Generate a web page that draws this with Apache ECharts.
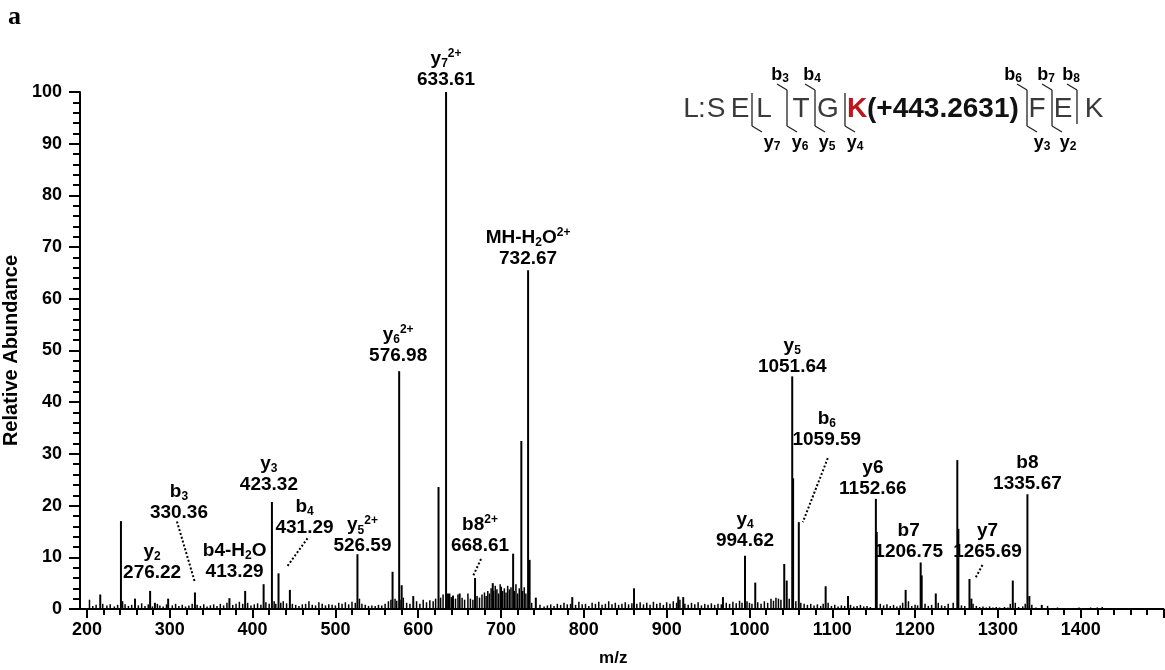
<!DOCTYPE html>
<html>
<head>
<meta charset="utf-8">
<script src="https://cdn.jsdelivr.net/npm/echarts@6/dist/echarts.min.js"></script>
<style>
html,body{margin:0;padding:0;background:#fff;}
#chart{width:1165px;height:670px;}
</style>
</head>
<body>
<div id="chart"></div>
<script>
// ---------------- DATA ----------------
// major fragment / precursor peaks [m/z, relative abundance]
const majorPeaks = [
  [216, 2.8], [241, 17], [258, 2], [276.22, 3.5], [282, 1.2], [298, 2], [330.36, 3.2],
  [372, 2.1], [391, 3.5], [413.29, 4.8], [423.32, 20.7], [431.29, 6.9], [445, 3.7],
  [526.59, 10.6], [569, 7.2], [576.98, 46], [580, 4.6], [594, 2.5], [624.5, 23.6],
  [633.61, 100], [636, 3], [642, 2.6], [650, 3], [668.61, 6], [690, 5], [700, 4.3],
  [714.6, 10.7], [724.5, 32.5], [732.67, 65.5], [734.5, 9.5], [742, 2.2], [786, 2.3],
  [860.6, 4], [914, 2.4], [920, 2.3], [968, 2.3], [994.62, 10.3], [1007, 5.1],
  [1042, 8.7], [1045, 5.5], [1051.64, 45], [1052.7, 25.3], [1059.59, 16.8], [1092, 4.4],
  [1119, 2.5], [1152.66, 21.3], [1153.7, 14.9], [1188.6, 3.7], [1206.75, 9], [1208, 6.5],
  [1225, 3], [1251, 28.8], [1252.3, 15.5], [1265.69, 5.8], [1268, 2], [1318, 5.5],
  [1335.67, 22.2], [1338, 2.5], [1353, 0.8]
];
// low-level baseline peaks [m/z, relative abundance]
const noisePeaks = [
  [203,1.8],[207,0.6],[211,0.8],[219,1.0],[224,0.7],[228,0.9],[233,0.5],[237,0.8],[243,1.5],[246,0.9],
  [250,0.6],[254,0.8],[262,0.7],[266,1.1],[270,0.6],[274,0.9],[279,0.5],[285,1.0],[288,0.7],[292,0.5],
  [296,0.9],[303,0.7],[307,1.0],[311,0.6],[315,0.8],[319,0.5],[323,0.7],[327,1.0],[333,0.8],[337,0.6],
  [341,0.9],[345,0.5],[349,0.7],[353,0.9],[357,0.6],[361,1.0],[365,0.7],[369,1.2],[376,0.8],[380,1.0],
  [384,1.4],[388,1.0],[394,1.2],[398,0.7],[402,0.9],[406,1.1],[410,0.8],[416,1.3],[420,1.0],[426,1.5],
  [428,1.0],[434,1.2],[437,1.5],[441,1.1],[448,1.0],[452,0.8],[456,0.6],[460,0.9],[464,1.0],[468,1.5],
  [472,0.8],[476,0.7],[480,1.3],[484,1.0],[488,0.7],[492,0.9],[496,0.8],[500,0.7],[504,1.2],[508,1.0],
  [512,1.3],[516,0.9],[520,1.4],[524,1.2],[529,2.0],[532,1.0],[536,0.8],[540,0.6],[544,0.7],[548,0.6],
  [552,0.8],[556,0.7],[560,1.0],[564,1.5],[567,1.8],[572,2.0],[574,1.6],[578,1.8],[582,2.2],[586,1.2],
  [590,1.0],[598,1.5],[602,1.0],[606,1.8],[610,1.3],[614,1.7],[618,1.5],[621,2.0],[627,2.2],[630,2.8],
  [638,3.0],[640,2.3],[645,2.0],[648,2.8],[653,2.2],[656,1.8],[660,3.0],[663,2.0],[666,1.8],[671,2.5],
  [674,2.2],[677,2.8],[680,3.2],[682,2.5],[684,3.5],[686,3.0],[688,4.0],[691,3.5],[693,4.5],[695,3.8],
  [697,3.0],[699,4.8],[702,3.5],[704,4.0],[706,3.2],[708,4.5],[710,3.8],[712,4.2],[716,3.5],[718,4.8],
  [720,3.0],[722,4.0],[726,3.5],[728,4.2],[730,3.0],[737,1.2],[747,0.8],[752,0.5],[756,0.7],[760,0.9],
  [764,0.6],[768,1.0],[772,0.8],[776,1.2],[780,0.9],[784,1.0],[790,0.8],[794,1.4],[798,0.9],[802,1.0],
  [806,0.6],[810,1.2],[814,1.0],[818,1.4],[822,0.8],[826,1.0],[830,1.5],[834,0.9],[838,1.2],[842,0.8],
  [846,1.0],[850,1.3],[854,0.9],[858,1.1],[864,1.0],[868,1.3],[872,0.9],[876,1.2],[880,0.8],[884,1.4],
  [888,1.0],[892,1.2],[896,0.8],[900,1.3],[904,1.0],[908,1.5],[912,1.2],[916,1.8],[922,1.0],[926,0.8],
  [930,1.2],[934,0.9],[938,1.3],[942,0.7],[946,1.0],[950,0.8],[954,1.1],[958,0.8],[962,1.0],[966,0.9],
  [972,1.2],[976,1.0],[980,1.4],[984,1.1],[988,1.6],[991,1.2],[997,1.5],[1000,1.2],[1003,1.0],[1010,1.3],
  [1014,1.0],[1018,1.5],[1022,1.2],[1026,2.0],[1029,1.6],[1032,2.2],[1035,2.0],[1038,1.8],[1048,2.0],[1056,1.5],
  [1062,1.2],[1066,1.0],[1070,0.8],[1074,1.0],[1078,0.7],[1082,0.9],[1086,0.6],[1089,1.0],[1095,1.2],[1099,0.6],
  [1103,0.8],[1107,0.5],[1111,0.7],[1115,0.6],[1122,0.8],[1126,0.5],[1130,0.6],[1134,0.8],[1138,0.5],[1142,0.6],
  [1146,0.4],[1158,1.0],[1162,0.7],[1166,0.9],[1170,0.6],[1174,0.8],[1178,0.5],[1182,0.7],[1185,1.2],[1192,1.5],
  [1196,0.6],[1200,0.8],[1203,0.7],[1212,1.0],[1216,0.6],[1220,0.8],[1228,1.2],[1232,0.7],[1236,0.6],[1240,1.0],
  [1246,1.2],[1256,0.7],[1260,0.6],[1270,1.0],[1274,0.6],[1278,0.4],[1282,0.5],[1286,0.3],[1290,0.5],[1294,0.3],
  [1298,0.4],[1302,0.3],[1308,0.4],[1312,0.3],[1315,1.0],[1321,1.2],[1325,0.4],[1330,0.5],[1333,1.0],[1341,0.8],
  [1346,0.3],[1360,0.6],[1372,0.3],[1385,0.2],[1398,0.3],[1405,0.2],[1412,0.3],[1420,0.3],[1426,0.4]
];
// annotated ions
const ionMz = [276.22, 330.36, 413.29, 423.32, 431.29, 526.59, 576.98, 633.61, 668.61,
  732.67, 994.62, 1051.64, 1059.59, 1152.66, 1206.75, 1265.69, 1335.67];
const ionNames = ['{n|y}{s|2}', '{n|b}{s|3}', '{n|b4-H}{s|2}{n|O}', '{n|y}{s|3}', '{n|b}{s|4}',
  '{n|y}{s|5}{p|2+}', '{n|y}{s|6}{p|2+}', '{n|y}{s|7}{p|2+}', '{n|b8}{p|2+}',
  '{n|MH-H}{s|2}{n|O}{p|2+}', '{n|y}{s|4}', '{n|y}{s|5}', '{n|b}{s|6}', '{n|y6}', '{n|b7}',
  '{n|y7}', '{n|b8}'];
// axis ticks
const xTicks = {min: 200, max: 1500, step: 100};
const yTicks = {min: 0, max: 100, step: 10};

// ---------------- LAYOUT (pixels) ----------------
// [dx of label centre from peak, height of value line centre above peak top, leader or null]
// leader: [start dx from label centre, start dy below value centre, end dx from peak, end dy from peak top]
const ionLayout = [
  [2, 18, null], [-16, 80, [-2, 9, 0, -10]], [-29, 12, null], [-3, 17, null], [26, 46, [3, 11, 8, -6]],
  [5, 8, null], [-1, 15, null], [0, 12, null], [5, 32, [1, 13, -2, -2]],
  [0, 12, null], [0, 15, null], [0, 10, null], [28, 82, [1, 18, 4, 0]], [-3, 10, null], [-12, 11, null],
  [18, 27, [-5, 13, 6, -1]], [0, 10, null]
];

const FONT = '"Liberation Sans", Arial, Helvetica, sans-serif';
const chart = echarts.init(document.getElementById('chart'), null, {renderer: 'canvas'});

function stick(width) {
  return function (params, api) {
    const x = api.value(0), y = api.value(1);
    const p0 = api.coord([x, 0]);
    const p1 = api.coord([x, y]);
    return {type: 'line', shape: {x1: p0[0], y1: p0[1], x2: p1[0], y2: p1[1]},
      style: {stroke: '#000', lineWidth: width}};
  };
}
const ionData = ionMz.map((mz, i) => {
  const pk = majorPeaks.find(p => p[0] === mz);
  return [mz, pk ? pk[1] : 0, i];
});
const rich = {
  n: {fontFamily: FONT, fontWeight: 'bold', fontSize: 19, lineHeight: 22, fill: '#000'},
  s: {fontFamily: FONT, fontWeight: 'bold', fontSize: 12, lineHeight: 12, verticalAlign: 'bottom', fill: '#000'},
  p: {fontFamily: FONT, fontWeight: 'bold', fontSize: 12, lineHeight: 12, verticalAlign: 'top', fill: '#000'}
};
function ionLabel(params, api) {
  const i = api.value(2);
  const pt = api.coord([api.value(0), api.value(1)]);
  const L = ionLayout[i];
  const lx = pt[0] + L[0];
  const vy = pt[1] - L[1];
  const children = [
    {type: 'text', x: lx, y: vy, style: {text: ionMz[i].toFixed(2), font: 'bold 19px ' + FONT,
      fill: '#000', align: 'center', verticalAlign: 'middle'}},
    {type: 'text', x: lx, y: vy - 21, style: {text: ionNames[i], rich: rich, fill: '#000',
      font: 'bold 19px ' + FONT, align: 'center', verticalAlign: 'middle'}}
  ];
  if (L[2]) {
    const d = L[2];
    children.push({type: 'line', shape: {x1: lx + d[0], y1: vy + d[1], x2: pt[0] + d[2], y2: pt[1] + d[3]},
      style: {stroke: '#000', lineWidth: 2, lineDash: [2, 2]}});
  }
  return {type: 'group', children: children};
}

// peptide sequence annotation (graphic)
const seqColor = '#3a3a3a';
const seqY = 109;
const seqParts = [
  ['L', 691, 'n'], [':', 702, 'n'], ['S', 716, 'n'], ['E', 740, 'n'], ['L', 764, 'n'], ['T', 801, 'n'],
  ['G', 828, 'n'], ['K', 857, 'k'], ['F', 1037, 'n'], ['E', 1063, 'n'], ['K', 1094, 'n']
];
const graphics = [];
seqParts.forEach(p => {
  graphics.push({type: 'text', x: p[1], y: seqY, style: {text: p[0],
    font: (p[2] === 'k' ? 'bold ' : '') + '28px ' + FONT, fill: p[2] === 'k' ? '#c0141c' : seqColor,
    align: 'center', verticalAlign: 'middle'}});
});
graphics.push({type: 'text', x: 867, y: seqY, style: {text: '(+443.2631)', font: 'bold 28px ' + FONT,
  fill: '#111', align: 'left', verticalAlign: 'middle'}});
// fragment brackets: [x, hasB, hasY]
const brackets = [[752, false, true], [787, true, true], [815, true, true], [845, false, true],
  [1027, true, true], [1052, true, true], [1077, true, false]];
brackets.forEach(b => {
  const x = b[0];
  graphics.push({type: 'line', shape: {x1: x, y1: b[1] ? 90 : 93, x2: x, y2: b[2] ? 126 : 124},
    style: {stroke: '#222', lineWidth: 1.3}});
  if (b[1]) graphics.push({type: 'line', shape: {x1: x - 10, y1: 84, x2: x, y2: 90}, style: {stroke: '#222', lineWidth: 1.3}});
  if (b[2]) graphics.push({type: 'line', shape: {x1: x, y1: 126, x2: x + 10, y2: 132}, style: {stroke: '#222', lineWidth: 1.3}});
});
const seqIonLabels = [
  ['{n|b}{s|3}', 780, 75], ['{n|b}{s|4}', 812, 75], ['{n|b}{s|6}', 1013, 75], ['{n|b}{s|7}', 1046, 75], ['{n|b}{s|8}', 1071, 75],
  ['{n|y}{s|7}', 772, 143], ['{n|y}{s|6}', 800, 143], ['{n|y}{s|5}', 827, 143], ['{n|y}{s|4}', 855, 143],
  ['{n|y}{s|3}', 1042, 143], ['{n|y}{s|2}', 1068, 143]
];
const richSmall = {
  n: {fontFamily: FONT, fontWeight: 'bold', fontSize: 18, lineHeight: 20, fill: '#000'},
  s: {fontFamily: FONT, fontWeight: 'bold', fontSize: 12, lineHeight: 12, verticalAlign: 'bottom', fill: '#000'}
};
seqIonLabels.forEach(l => {
  graphics.push({type: 'text', x: l[1], y: l[2], style: {text: l[0], rich: richSmall,
    align: 'center', verticalAlign: 'middle'}});
});
// panel letter
graphics.push({type: 'text', left: 8, top: 4, style: {text: 'a', font: 'bold 26px "Liberation Serif", "Times New Roman", serif', fill: '#000'}});
// join x-axis line to the offset y-axis line
graphics.push({type: 'line', shape: {x1: 79, y1: 609, x2: 88, y2: 609}, style: {stroke: '#000', lineWidth: 2}});

const axisFont = {color: '#000', fontSize: 18, fontWeight: 'bold', fontFamily: FONT};
const option = {
  animation: false,
  backgroundColor: '#fff',
  grid: {left: 87, right: 1.5, top: 92, bottom: 61, containLabel: false, outerBoundsMode: 'none'},
  xAxis: {
    type: 'value', min: xTicks.min, max: xTicks.max, interval: xTicks.step,
    axisLine: {show: true, lineStyle: {color: '#000', width: 2}},
    axisTick: {show: true, length: 9, lineStyle: {color: '#000', width: 2}},
    minorTick: {show: true, splitNumber: 5, length: 6, lineStyle: {color: '#000', width: 2}},
    splitLine: {show: false}, minorSplitLine: {show: false},
    axisLabel: Object.assign({margin: 12, showMaxLabel: false, formatter: v => (v === xTicks.max ? '' : String(v))}, axisFont),
    name: 'm/z', nameLocation: 'middle', nameGap: 41,
    nameTextStyle: {color: '#000', fontSize: 17, fontWeight: 'bold', fontFamily: FONT, padding: [0, 24, 0, 0]}
  },
  yAxis: {
    type: 'value', min: yTicks.min, max: yTicks.max, interval: yTicks.step, offset: 7,
    axisLine: {show: true, lineStyle: {color: '#000', width: 2}},
    axisTick: {show: true, length: 11, lineStyle: {color: '#000', width: 2}},
    minorTick: {show: true, splitNumber: 5, length: 7, lineStyle: {color: '#000', width: 2}},
    splitLine: {show: false}, minorSplitLine: {show: false},
    axisLabel: Object.assign({margin: 18}, axisFont),
    name: 'Relative Abundance', nameLocation: 'middle', nameGap: 53, nameRotate: 90,
    nameTextStyle: {color: '#000', fontSize: 20, fontWeight: 'bold', fontFamily: FONT}
  },
  series: [
    {type: 'custom', name: 'noise', renderItem: stick(1.5), data: noisePeaks, encode: {x: 0, y: 1}, silent: true, z: 2},
    {type: 'custom', name: 'peaks', renderItem: stick(2), data: majorPeaks, encode: {x: 0, y: 1}, silent: true, z: 3},
    {type: 'custom', name: 'labels', renderItem: ionLabel, data: ionData, encode: {x: 0, y: 1}, silent: true, z: 4, clip: false}
  ],
  graphic: graphics
};
chart.setOption(option);
</script>
</body>
</html>
